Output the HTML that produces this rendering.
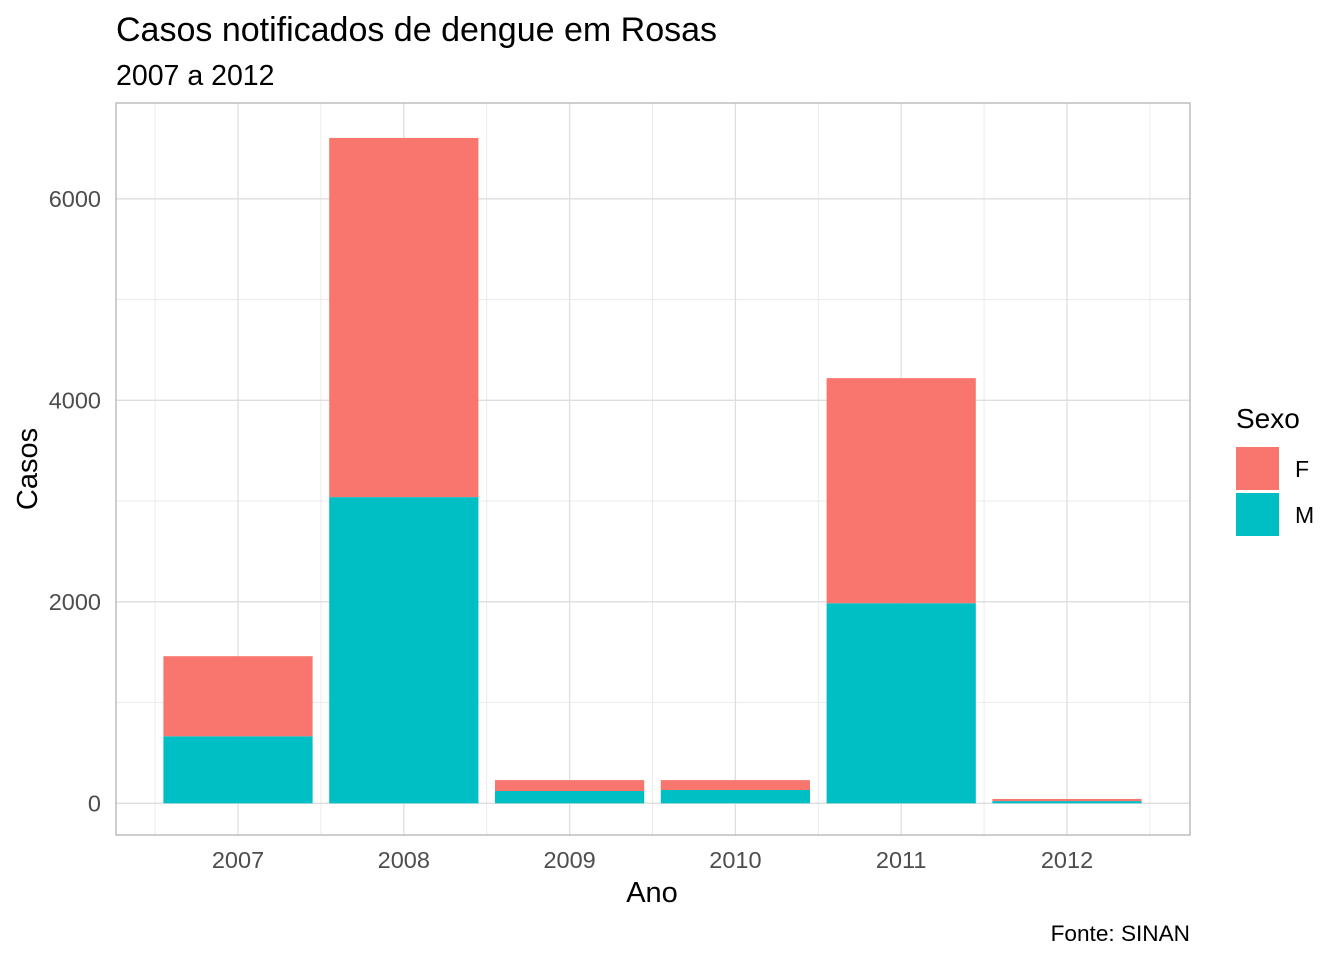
<!DOCTYPE html>
<html><head><meta charset="utf-8"><style>
body{margin:0;background:#fff;font-family:"Liberation Sans",sans-serif}
text{font-family:"Liberation Sans",sans-serif}
</style></head><body>
<svg id="c" width="1344" height="960" xmlns="http://www.w3.org/2000/svg">
<text x="116" y="41" font-size="34" fill="#000">Casos notificados de dengue em Rosas</text>
<text x="116" y="85" font-size="28.5" fill="#000">2007 a 2012</text>
<g id="plot"></g>
<text x="652" y="902" font-size="29" text-anchor="middle">Ano</text>
<text transform="translate(37,469) rotate(-90)" font-size="29" text-anchor="middle">Casos</text>
<text x="1190" y="941" font-size="22.6" text-anchor="end">Fonte: SINAN</text>
<g>
<text x="1236" y="428" font-size="28">Sexo</text>
<rect x="1236" y="447" width="43" height="43" fill="#F8766D"/>
<text x="1295" y="477" font-size="23">F</text>
<rect x="1236" y="493" width="43" height="43" fill="#00BFC4"/>
<text x="1295" y="523" font-size="23">M</text>
</g>
</svg>
<script>
const categories=["2007","2008","2009","2010","2011","2012"];
const valuesM=[665,3039,122,132,1986,22];
const valuesF=[795,3565,108,98,2234,21];
const yTicks=[0,2000,4000,6000];
const NS="http://www.w3.org/2000/svg";
const L=116,R=1190,T=103,B=835;
const y0=803.3,pxPer=201.5/2000;
const y=v=>y0-v*pxPer;
const step=165.8;
const x=i=>238+step*i;
const g=document.getElementById('plot');
function mk(t,a){const e=document.createElementNS(NS,t);for(const k in a)e.setAttribute(k,a[k]);g.appendChild(e);return e;}
for(let i=0;i<yTicks.length;i++){const v=yTicks[i]+1000;const yy=y(v);if(yy>T){const e=mk('line',{x1:L,x2:R,y1:yy,y2:yy,stroke:'#ebebeb','stroke-width':1});

}}
for(let i=0;i<=categories.length;i++){const xx=x(i)-step/2;const e=mk('line',{x1:xx,x2:xx,y1:T,y2:B,stroke:'#ebebeb','stroke-width':1});

}
yTicks.forEach(v=>{const e=mk('line',{x1:L,x2:R,y1:y(v),y2:y(v),stroke:'#dedede','stroke-width':1.3});


const t=mk('text',{x:101,y:y(v)+8,'font-size':23.5,'text-anchor':'end',fill:'#4d4d4d'});t.textContent=v;

});
categories.forEach((c,i)=>{const e=mk('line',{x1:x(i),x2:x(i),y1:T,y2:B,stroke:'#dedede','stroke-width':1.3});


const t=mk('text',{x:x(i),y:868,'font-size':23.5,'text-anchor':'middle',fill:'#4d4d4d'});t.textContent=c;

});
const bw=step*0.9;
categories.forEach((c,i)=>{
const m=valuesM[i],f=valuesF[i];
const bm=mk('rect',{x:x(i)-bw/2,y:y(m),width:bw,height:y0-y(m),fill:'#00BFC4'});


const bf=mk('rect',{x:x(i)-bw/2,y:y(m+f),width:bw,height:y(m)-y(m+f),fill:'#F8766D'});

});
const br=mk('rect',{x:L,y:T,width:R-L,height:B-T,fill:'none',stroke:'#b3b3b3','stroke-width':1.3});


</script>
</body></html>
